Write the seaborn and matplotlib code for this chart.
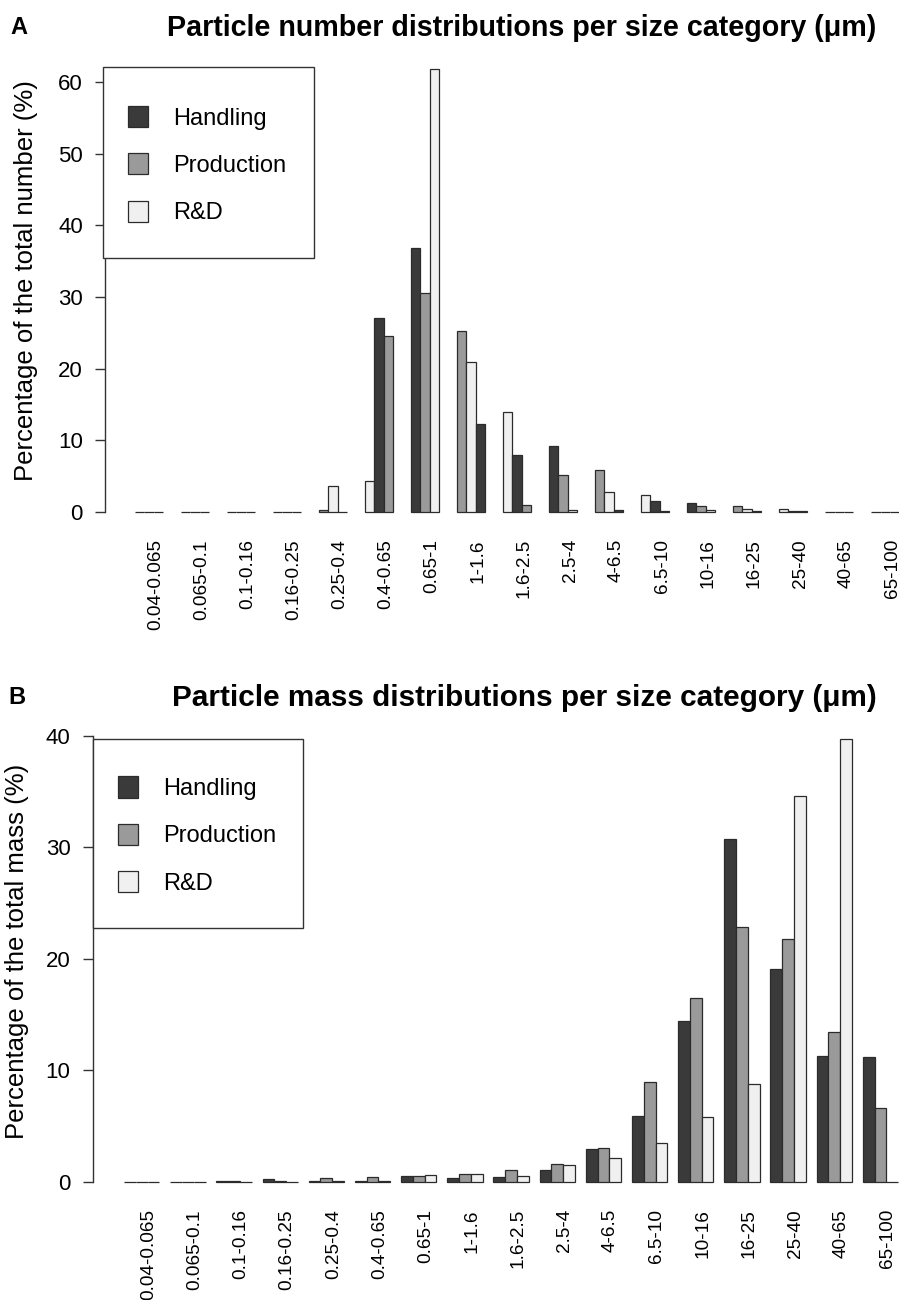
"""
Particle number / mass distributions per size category, two stacked panels.
Grouped grey-scale bars per size class for the three workplace sources.
"""

import numpy as np
import pandas as pd
import matplotlib
matplotlib.use("Agg")
import matplotlib.pyplot as plt
import matplotlib.transforms as mtransforms
from matplotlib.patches import Patch, Rectangle
import seaborn as sns

# ---------------------------------------------------------------------------
# Data
# ---------------------------------------------------------------------------
size_classes = ["0.04-0.065", "0.065-0.1", "0.1-0.16", "0.16-0.25", "0.25-0.4",
                "0.4-0.65", "0.65-1", "1-1.6", "1.6-2.5", "2.5-4", "4-6.5",
                "6.5-10", "10-16", "16-25", "25-40", "40-65", "65-100"]
sources = ["Handling", "Production", "R&D"]

# Panel A: percentage of the total particle number
number_handling = [0, 0, 0, 0, 0.3, 4.3, 36.9, 25.2, 14.0, 9.2, 5.8, 2.4, 1.2, 0.75, 0.4, 0, 0]
number_production = [0, 0, 0, 0, 3.6, 27.1, 30.5, 20.9, 7.9, 5.1, 2.7, 1.5, 0.85, 0.4, 0.15, 0, 0]
number_rd = [0, 0, 0, 0, 0, 24.5, 61.8, 12.3, 1.0, 0.2, 0.2, 0.15, 0.25, 0.1, 0.1, 0, 0]

# Panel B: percentage of the total particle mass
mass_handling = [0, 0, 0.05, 0.2, 0.03, 0.05, 0.5, 0.3, 0.4, 1.05, 2.95, 5.9, 14.4, 30.7, 19.1, 11.3, 11.2]
mass_production = [0, 0, 0.02, 0.03, 0.3, 0.42, 0.55, 0.7, 1.05, 1.6, 3.05, 8.9, 16.5, 22.8, 21.8, 13.4, 6.6]
mass_rd = [0, 0, 0, 0, 0.02, 0.02, 0.63, 0.65, 0.54, 1.5, 2.1, 3.45, 5.8, 8.8, 34.6, 39.7, 0]

shades = ["#3a3a3a", "#9a9a9a", "#f0f0f0"]
EDGE = "#2b2b2b"


def to_long(handling, production, rd):
    return pd.DataFrame({
        "size": size_classes * 3,
        "source": np.repeat(sources, len(size_classes)),
        "value": handling + production + rd,
    })


def draw_panel(ax, df, width, ylim, xlim, ytop, ylabel, label_xy,
               frame_box, legend_xy, cycle_shades=False):
    sns.barplot(data=df, x="size", y="value", hue="source",
                order=size_classes, hue_order=sources, palette=shades,
                width=width, errorbar=None, edgecolor=EDGE, linewidth=0.9,
                legend=False, ax=ax)

    if cycle_shades:
        # the original figure recycles the fill colours bar-by-bar, so the
        # shade shifts one step per size class; reproduce that here
        step = width / 3
        for bar in ax.patches:
            c = bar.get_x() + bar.get_width() / 2
            g = int(round(c))
            j = int(round((c - g) / step)) + 1
            bar.set_facecolor(shades[(g + j) % 3])

    ax.set_xlim(*xlim)
    ax.set_ylim(*ylim)
    ax.set_yticks(np.arange(0, ytop + 1, 10))
    sns.despine(ax=ax, bottom=True)
    ax.spines["left"].set_bounds(0, ytop)
    ax.spines["left"].set_color("#333333")
    ax.spines["left"].set_linewidth(1)

    ax.tick_params(axis="y", left=True, length=7, width=1, color="#333333",
                   labelcolor="black", pad=9, labelsize=16)
    ax.tick_params(axis="x", bottom=False, length=0, pad=7, labelsize=13.7,
                   labelcolor="black", labelrotation=90)
    # R puts the rotated names a little right of the group centre
    shift = mtransforms.ScaledTranslation(7 / 100, 0, ax.figure.dpi_scale_trans)
    for t in ax.get_xticklabels():
        t.set_va("top")
        t.set_ha("center")
        t.set_transform(t.get_transform() + shift)

    ax.set_xlabel("")
    ax.set_ylabel(ylabel, fontsize=18.5, color="black")
    ax.yaxis.set_label_coords(*label_xy)

    # legend frame drawn separately so the padding matches the original box
    x0, y0, x1, y1 = frame_box
    ax.add_patch(Rectangle((x0, y0), x1 - x0, y1 - y0, transform=ax.transAxes,
                           facecolor="white", edgecolor="#333333", linewidth=1,
                           clip_on=False, zorder=5))
    handles = [Patch(facecolor=c, edgecolor=EDGE, linewidth=0.9, label=s)
               for c, s in zip(shades, sources)]
    leg = ax.legend(handles=handles, loc="upper left", bbox_to_anchor=legend_xy,
                    borderaxespad=0, borderpad=0, fontsize=17, frameon=False,
                    handlelength=0.85, handleheight=1.0, handletextpad=1.06,
                    labelspacing=1.0)
    leg.set_zorder(6)


sns.set_style("white")
plt.rcParams["font.family"] = ["Liberation Sans", "DejaVu Sans"]
plt.rcParams["text.color"] = "black"

fig = plt.figure(figsize=(8.99, 13.0), dpi=100)

ax_a = fig.add_axes([105 / 899, (1300 - 529.4) / 1300, 794 / 899, 477.7 / 1300])
draw_panel(ax_a, to_long(number_handling, number_production, number_rd),
           width=0.61, ylim=(-2.47, 64.27), xlim=(-0.957, 16.30), ytop=60,
           ylabel="Percentage of the total number (%)",
           label_xy=(-0.084, 0.52),
           frame_box=(-0.0025, 0.568, 0.2632, 0.968), legend_xy=(0.029, 0.8863),
           cycle_shades=True)

ax_b = fig.add_axes([92.7 / 899, (1300 - 1199.4) / 1300, 806.3 / 899, 478.2 / 1300])
draw_panel(ax_b, to_long(mass_handling, mass_production, mass_rd),
           width=0.766, ylim=(-1.59, 41.3), xlim=(-1.06, 16.4), ytop=40,
           ylabel="Percentage of the total mass (%)",
           label_xy=(-0.079, 0.518),
           frame_box=(0.0007, 0.567, 0.2612, 0.962), legend_xy=(0.031, 0.8844))

fig.text(0.580, 1 - 28 / 1300, "Particle number distributions per size category (μm)",
         ha="center", va="center", fontsize=20.6, fontweight="bold")
fig.text(10 / 899, 1 - 28 / 1300, "A", ha="left", va="center", fontsize=17, fontweight="bold")
fig.text(0.5834, 1 - 698 / 1300, "Particle mass distributions per size category (μm)",
         ha="center", va="center", fontsize=21.4, fontweight="bold")
fig.text(8 / 899, 1 - 697 / 1300, "B", ha="left", va="center", fontsize=17, fontweight="bold")

fig.savefig("out.png", dpi=100)
plt.close(fig)
